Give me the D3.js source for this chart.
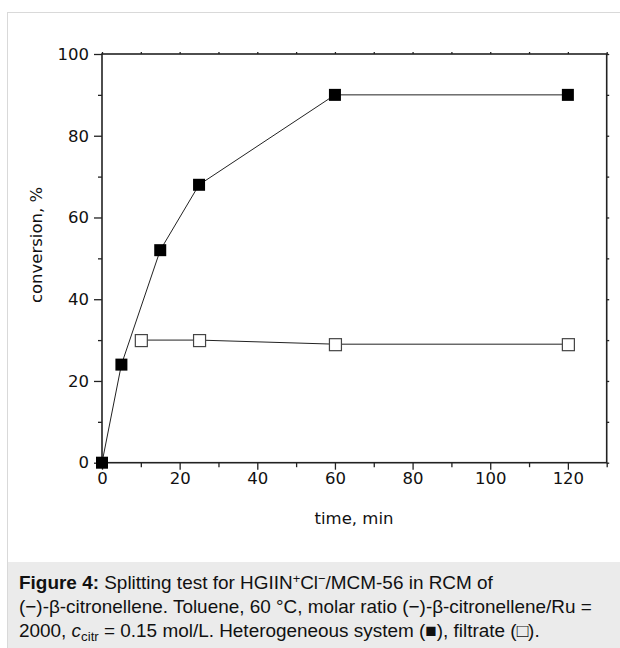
<!DOCTYPE html>
<html>
<head>
<meta charset="utf-8">
<script src="https://d3js.org/d3.v7.min.js"></script>
<style>
  body { margin: 0; background: #fff; }
  svg text { font-family: "DejaVu Sans", sans-serif; }
  .cap { font-family: "Liberation Sans", Arial, sans-serif; fill: #111; }
</style>
</head>
<body>
<svg id="chart" width="620" height="648"></svg>
<script>
// data
var timeHet = [0, 5, 15, 25, 60, 120];
var convHet = [0, 24, 52, 68, 90, 90];
var timeFil = [10, 25, 60, 120];
var convFil = [30, 30, 29, 29];
var xTicks = [0, 20, 40, 60, 80, 100, 120];
var yTicks = [0, 20, 40, 60, 80, 100];

var svg = d3.select("#chart");

// outer frame + caption box
svg.append("rect").attr("x", 7.5).attr("y", 12.5).attr("width", 640).attr("height", 660)
  .attr("fill", "#fff").attr("stroke", "#d9d9d9");
svg.append("rect").attr("x", 8).attr("y", 562).attr("width", 620).attr("height", 90)
  .attr("fill", "#ebebeb");

var x = d3.scaleLinear().domain([0, 130]).range([102, 606.7]);
var y = d3.scaleLinear().domain([0, 100]).range([462.7, 54]);

var g = svg.append("g");

function styleAxis(sel) {
  sel.attr("font-size", null).attr("font-family", null);
  sel.select(".domain").remove();
  sel.selectAll("line").attr("stroke", "#222").attr("stroke-width", 1.3);
  sel.selectAll("text").style("font-size", "16.5px").attr("fill", "#111");
}

// bottom & left with labels
g.append("g").attr("transform", "translate(0," + y(0) + ")")
  .call(d3.axisBottom(x).tickValues(xTicks).tickSize(7).tickPadding(3).tickFormat(d3.format("d")))
  .call(styleAxis);
g.append("g").attr("transform", "translate(0," + y(0) + ")")
  .call(d3.axisBottom(x).tickValues(d3.range(10, 131, 20)).tickSize(4.5).tickFormat(""))
  .call(styleAxis);
g.append("g").attr("transform", "translate(" + x(0) + ",0)")
  .call(d3.axisLeft(y).tickValues(yTicks).tickSize(8).tickPadding(5).tickFormat(d3.format("d")))
  .call(styleAxis);
g.append("g").attr("transform", "translate(" + x(0) + ",0)")
  .call(d3.axisLeft(y).tickValues(d3.range(10, 100, 20)).tickSize(4).tickFormat(""))
  .call(styleAxis);
// top & right, ticks only
g.append("g").attr("transform", "translate(0," + y(100) + ")")
  .call(d3.axisTop(x).tickValues(d3.range(0, 131, 10)).tickSize(2).tickFormat(""))
  .call(styleAxis);
g.append("g").attr("transform", "translate(" + x(130) + ",0)")
  .call(d3.axisRight(y).tickValues(d3.range(0, 101, 10)).tickSize(2.5).tickFormat(""))
  .call(styleAxis);

// frame of plot
g.append("rect").attr("x", x(0)).attr("y", y(100))
  .attr("width", x(130) - x(0)).attr("height", y(0) - y(100))
  .attr("fill", "none").attr("stroke", "#222").attr("stroke-width", 1.6);

// axis titles
svg.append("text").attr("x", 354).attr("y", 524).attr("text-anchor", "middle")
  .attr("font-size", 16.5).attr("fill", "#111").text("time, min");
svg.append("text").attr("transform", "translate(42,245) rotate(-90)").attr("text-anchor", "middle")
  .attr("font-size", 16.5).attr("fill", "#111").text("conversion, %");

var line = d3.line().x(d => x(d[0])).y(d => y(d[1]));
var het = timeHet.map((t, i) => [t, convHet[i]]);
var fil = timeFil.map((t, i) => [t, convFil[i]]);

g.append("path").datum(het).attr("d", line).attr("fill", "none").attr("stroke", "#222").attr("stroke-width", 1);
g.append("path").datum(fil).attr("d", line).attr("fill", "none").attr("stroke", "#222").attr("stroke-width", 1);

var s = 12;
g.selectAll("rect.het").data(het).join("rect").attr("class", "het")
  .attr("x", d => x(d[0]) - s / 2).attr("y", d => y(d[1]) - s / 2)
  .attr("width", s).attr("height", s).attr("fill", "#000");
g.selectAll("rect.fil").data(fil).join("rect").attr("class", "fil")
  .attr("x", d => x(d[0]) - s / 2 + 0.5).attr("y", d => y(d[1]) - s / 2 + 0.5)
  .attr("width", s).attr("height", s).attr("fill", "#fff").attr("stroke", "#444").attr("stroke-width", 1.2);

// caption, each line fitted to the width it has in the figure
var capLines = [
  { y: 589, w: 474 },
  { y: 613, w: 573 },
  { y: 637, w: 521 }
];
function capLine(i, fill) {
  var t = svg.append("text").attr("class", "cap").attr("x", 19).attr("y", capLines[i].y)
    .attr("font-size", 18);
  fill(t);
  var w = t.node().getComputedTextLength();
  t.attr("font-size", 18 * capLines[i].w / w);
}
capLine(0, function (t) {
  t.append("tspan").attr("font-weight", "bold").text("Figure 4:");
  t.append("tspan").text(" Splitting test for HGIIN");
  t.append("tspan").attr("dy", -6).attr("font-size", "0.68em").text("+");
  t.append("tspan").attr("dy", 6).text("Cl");
  t.append("tspan").attr("dy", -6).attr("font-size", "0.68em").text("\u2212");
  t.append("tspan").attr("dy", 6).text("/MCM-56 in RCM of");
});
capLine(1, function (t) {
  t.text("(\u2212)-\u03b2-citronellene. Toluene, 60 \u00b0C, molar ratio (\u2212)-\u03b2-citronellene/Ru =");
});
capLine(2, function (t) {
  t.append("tspan").text("2000, ");
  t.append("tspan").attr("font-style", "italic").text("c");
  t.append("tspan").attr("dy", 4).attr("font-size", "0.7em").text("citr");
  t.append("tspan").attr("dy", -4).text(" = 0.15 mol/L. Heterogeneous system (\u25a0), filtrate (\u25a1).");
});
</script>
</body>
</html>
